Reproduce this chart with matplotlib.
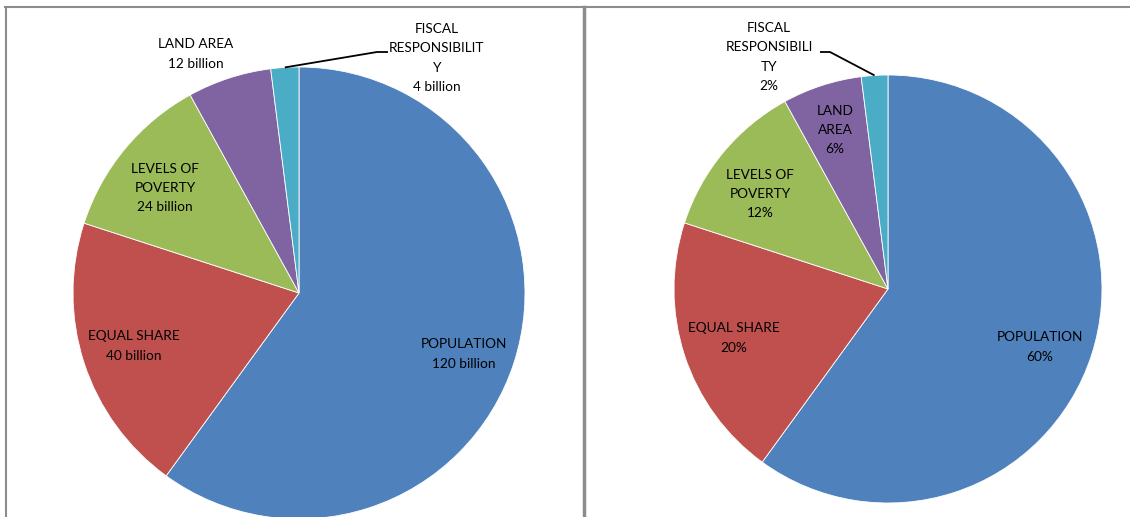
import numpy as np
import matplotlib.pyplot as plt

W, H = 1130, 517

categories = ["POPULATION", "EQUAL SHARE", "LEVELS OF POVERTY", "LAND AREA", "FISCAL RESPONSIBILITY"]
values_billion = [120, 40, 24, 12, 4]
percent = [60, 20, 12, 6, 2]
colors = ["#4F81BD", "#C0504D", "#9BBB59", "#8064A2", "#4BACC6"]

# wrapped names as they appear in each chart
names_left = ["POPULATION", "EQUAL SHARE", "LEVELS OF\nPOVERTY", "LAND AREA", "FISCAL\nRESPONSIBILIT\nY"]
names_right = ["POPULATION", "EQUAL SHARE", "LEVELS OF\nPOVERTY", "LAND\nAREA", "FISCAL\nRESPONSIBILI\nTY"]

plt.rcParams['font.family'] = ['Lato', 'DejaVu Sans']

fig = plt.figure(figsize=(W / 100, H / 100), dpi=100)
ax = fig.add_axes([0, 0, 1, 1])


def img(x, y):
    # image pixel coords (y down) -> axes coords (y up)
    return x, H - y


def draw_pie(values, center, radius, labels, label_pos, elbow):
    cx, cy = img(*center)
    wedges, _ = ax.pie(values, colors=colors, startangle=90, counterclock=False,
                       center=(cx, cy), radius=radius,
                       wedgeprops=dict(edgecolor="white", linewidth=0.6))
    for txt, pos in zip(labels, label_pos):
        x, y = img(*pos)
        ax.text(x, y, txt, ha="center", va="center", fontsize=9.8,
                color="black", linespacing=1.72)
    # leader line for the smallest slice
    w = wedges[-1]
    mid = np.deg2rad((w.theta1 + w.theta2) / 2)
    sx, sy = cx + radius * np.cos(mid), cy + radius * np.sin(mid)
    ex1, ey1 = img(*elbow[0])
    ex2, ey2 = img(*elbow[1])
    ax.plot([sx, ex1, ex2], [sy, ey1, ey2], color="black", lw=1.3,
            solid_capstyle="butt")


labels_left = [f"{n}\n{v} billion" for n, v in zip(names_left, values_billion)]
labels_right = [f"{n}\n{p}%" for n, p in zip(names_right, percent)]

draw_pie(values_billion, (299, 293), 226, labels_left,
         [(464, 354), (134, 346), (165, 188), (196, 54), (437, 58)],
         [(377, 52), (388, 52)])
draw_pie(percent, (888, 289), 214, labels_right,
         [(1040, 347), (734, 338), (760, 194), (835, 130), (769, 57)],
         [(830, 52), (820, 52)])

# chart borders
gray = "#8c8c8c"
ax.plot([5, W], [H - 7, H - 7], color=gray, lw=1.5)
ax.plot([6, 6], [0, H - 7], color=gray, lw=1.5)
ax.plot([584, 584], [0, H - 7], color=gray, lw=2.5)

ax.set_xlim(0, W)
ax.set_ylim(0, H)
ax.set_aspect("auto")
ax.axis("off")

fig.savefig("out.png", dpi=100)
